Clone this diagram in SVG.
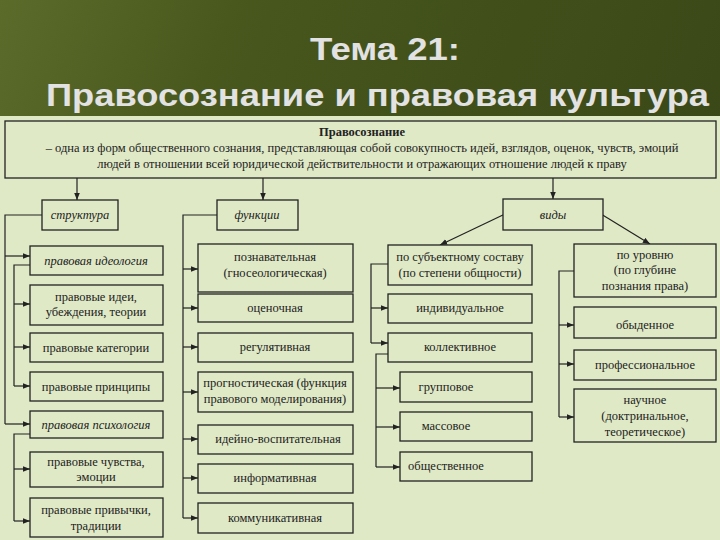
<svg xmlns="http://www.w3.org/2000/svg" width="720" height="540" viewBox="0 0 720 540">
<defs>
<marker id="a" viewBox="0 0 10 10" refX="10" refY="5" markerWidth="6" markerHeight="6" orient="auto"><path d="M0,1 L10,5 L0,9 z" fill="#222"/></marker>
<linearGradient id="bg" x1="0" y1="0" x2="1" y2="0.3"><stop offset="0" stop-color="#5b6b2a"/><stop offset="0.35" stop-color="#46561c"/><stop offset="1" stop-color="#3a4818"/></linearGradient>
</defs>
<style>
.b{fill:#dfe9c6;stroke:#222;stroke-width:1.3}
.t{font-family:"Liberation Serif",serif;font-size:12.5px;fill:#222;text-anchor:middle}
.i{font-style:italic}
.h{font-family:"Liberation Sans",sans-serif;font-size:31px;font-weight:bold;fill:#e2e2e2}
.c path{fill:none;stroke:#222;stroke-width:1.2}
.c .m{marker-end:url(#a)}
</style>
<rect width="720" height="540" fill="url(#bg)"/>
<rect x="0" y="116" width="720" height="424" fill="#dfe9c6"/>
<text class="h" x="310" y="60" textLength="150" lengthAdjust="spacingAndGlyphs">Тема 21:</text>
<text class="h" x="46" y="106" textLength="663" lengthAdjust="spacingAndGlyphs">Правосознание и правовая культура</text>

<g class="c">
<path class="m" d="M77,178V200"/><path class="m" d="M263,178V200"/><path class="m" d="M553,178V199"/>
<path class="m" d="M505,214L440,245"/><path class="m" d="M601,214L650,244"/>
<path d="M42,215H5V424"/><path class="m" d="M5,256H30"/><path class="m" d="M5,424H30"/>
<path d="M30,265H14V386"/><path class="m" d="M14,304H30"/><path class="m" d="M14,347H30"/><path class="m" d="M14,386H30"/>
<path d="M30,434H14V521"/><path class="m" d="M14,469H30"/><path class="m" d="M14,521H30"/>
<path d="M217,215H183V518"/><path class="m" d="M183,269H198"/><path class="m" d="M183,308H198"/><path class="m" d="M183,347H198"/><path class="m" d="M183,392H198"/><path class="m" d="M183,439H198"/><path class="m" d="M183,478H198"/><path class="m" d="M183,518H198"/>
<path d="M388,264H371V343"/><path class="m" d="M371,308H388"/><path class="m" d="M371,343H388"/>
<path d="M388,354H376V467"/><path class="m" d="M376,388H400"/><path class="m" d="M376,427H400"/><path class="m" d="M376,467H400"/>
<path d="M574,271H559V417"/><path class="m" d="M559,325H574"/><path class="m" d="M559,364H574"/><path class="m" d="M559,417H574"/>
</g>

<g id="main"><rect class="b" x="5" y="121" width="711" height="57"/>
<text class="t" x="362" y="136" font-weight="bold">Правосознание</text>
<text class="t" x="362" y="152">– одна из форм общественного сознания, представляющая собой совокупность идей, взглядов, оценок, чувств, эмоций</text>
<text class="t" x="362" y="168">людей в отношении всей юридической действительности и отражающих отношение людей к праву</text></g>

<g id="struct"><rect class="b" x="42" y="200" width="76" height="30"/><text class="t i" x="80" y="219">структура</text></g>
<g id="func"><rect class="b" x="217" y="200" width="81" height="30"/><text class="t i" x="257" y="219">функции</text></g>
<g id="vidy"><rect class="b" x="503" y="199" width="100" height="31"/><text class="t i" x="553" y="219">виды</text></g>

<g id="s1"><rect class="b" x="30" y="246" width="133" height="29"/><text class="t i" x="96" y="265">правовая идеология</text></g>
<g id="s2"><rect class="b" x="30" y="285" width="133" height="40"/><text class="t" x="96" y="301">правовые идеи,</text><text class="t" x="96" y="316">убеждения, теории</text></g>
<g id="s3"><rect class="b" x="30" y="333" width="133" height="29"/><text class="t" x="96" y="352">правовые категории</text></g>
<g id="s4"><rect class="b" x="30" y="372" width="133" height="29"/><text class="t" x="96" y="391">правовые принципы</text></g>
<g id="s5"><rect class="b" x="30" y="411" width="133" height="27"/><text class="t i" x="96" y="429">правовая психология</text></g>
<g id="s6"><rect class="b" x="30" y="452" width="133" height="35"/><text class="t" x="96" y="466">правовые чувства,</text><text class="t" x="96" y="481">эмоции</text></g>
<g id="s7"><rect class="b" x="30" y="498" width="133" height="39"/><text class="t" x="96" y="514">правовые привычки,</text><text class="t" x="96" y="530">традиции</text></g>

<g id="f1"><rect class="b" x="198" y="244" width="155" height="48"/><text class="t" x="275" y="261">познавательная</text><text class="t" x="275" y="277">(гносеологическая)</text></g>
<g id="f2"><rect class="b" x="198" y="294" width="155" height="28"/><text class="t" x="275" y="312">оценочная</text></g>
<g id="f3"><rect class="b" x="198" y="333" width="155" height="29"/><text class="t" x="275" y="351">регулятивная</text></g>
<g id="f4"><rect class="b" x="198" y="372" width="155" height="40"/><text class="t" x="275" y="387">прогностическая (функция</text><text class="t" x="275" y="403">правового моделирования)</text></g>
<g id="f5"><rect class="b" x="198" y="425" width="155" height="29"/><text class="t" x="278" y="443">идейно-воспитательная</text></g>
<g id="f6"><rect class="b" x="198" y="464" width="155" height="29"/><text class="t" x="275" y="482">информативная</text></g>
<g id="f7"><rect class="b" x="198" y="503" width="155" height="30"/><text class="t" x="275" y="522">коммуникативная</text></g>

<g id="v1"><rect class="b" x="388" y="245" width="144" height="40"/><text class="t" x="460" y="261">по субъектному составу</text><text class="t" x="460" y="277">(по степени общности)</text></g>
<g id="v2"><rect class="b" x="388" y="294" width="144" height="29"/><text class="t" x="460" y="312">индивидуальное</text></g>
<g id="v3"><rect class="b" x="388" y="333" width="144" height="29"/><text class="t" x="460" y="351">коллективное</text></g>
<g id="v4"><rect class="b" x="400" y="372" width="132" height="30"/><text class="t" x="446" y="391">групповое</text></g>
<g id="v5"><rect class="b" x="400" y="412" width="132" height="29"/><text class="t" x="446" y="430">массовое</text></g>
<g id="v6"><rect class="b" x="400" y="452" width="132" height="29"/><text class="t" x="446" y="470">общественное</text></g>

<g id="u1"><rect class="b" x="574" y="244" width="142" height="53"/><text class="t" x="645" y="259">по уровню</text><text class="t" x="645" y="274">(по глубине</text><text class="t" x="645" y="290">познания права)</text></g>
<g id="u2"><rect class="b" x="574" y="307" width="142" height="31"/><text class="t" x="645" y="329">обыденное</text></g>
<g id="u3"><rect class="b" x="574" y="350" width="142" height="30"/><text class="t" x="645" y="369">профессиональное</text></g>
<g id="u4"><rect class="b" x="574" y="389" width="142" height="53"/><text class="t" x="645" y="404">научное</text><text class="t" x="645" y="420">(доктринальное,</text><text class="t" x="645" y="436">теоретическое)</text></g>
</svg>
